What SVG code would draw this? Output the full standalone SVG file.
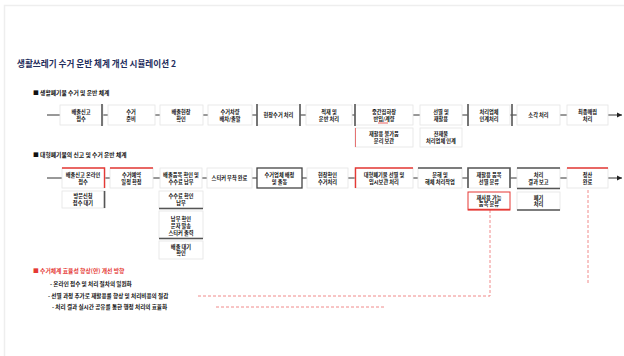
<svg xmlns="http://www.w3.org/2000/svg" width="624" height="356" viewBox="0 0 624 356">
<defs>
<style>
.t{font-family:"Noto Sans CJK KR","Noto Sans",sans-serif;}
.bx{fill:#fff;stroke:#e4e4e4;stroke-width:0.8;}
.bt{font-family:"Noto Sans CJK KR","Noto Sans",sans-serif;font-size:5.2px;font-weight:bold;fill:#111;text-anchor:middle;}
.cn{stroke:#333;stroke-width:1;fill:none;}
.dk{stroke:#555;stroke-width:1.6;fill:none;}
.rd{stroke:#e53935;stroke-width:1.4;fill:none;}
.rdash{stroke:#f08a8a;stroke-width:1;stroke-dasharray:3,2;fill:none;}
.bl{font-family:"Noto Sans CJK KR","Noto Sans",sans-serif;font-size:5.6px;font-weight:bold;fill:#111;}
</style>
<marker id="ah" markerWidth="6" markerHeight="6" refX="5" refY="3" orient="auto" markerUnits="userSpaceOnUse">
<path d="M0,0.5 L5,3 L0,5.5 z" fill="#222"/>
</marker>
</defs>
<rect x="0" y="0" width="624" height="356" fill="#fff"/>
<path d="M4.5,356 V5.5 H624" stroke="#eeeeee" stroke-width="1.5" fill="none"/>

<text class="t" x="17" y="67" font-size="8.6" font-weight="bold" fill="#1f2d5c">생활쓰레기 수거 운반 체계 개선 시뮬레이션 2</text>
<text class="t" x="33" y="94.5" font-size="5.8" font-weight="bold" fill="#111">■ 생활폐기물 수거 및 운반 체계</text>
<text class="t" x="33" y="157" font-size="5.8" font-weight="bold" fill="#111">■ 대형폐기물의 신고 및 수거 운반 체계</text>

<g id="connectors">
<line class="cn" x1="47" y1="115" x2="60" y2="115"/>
<line class="cn" x1="103" y1="115" x2="108" y2="115"/>
<line class="cn" x1="155" y1="115" x2="160" y2="115"/>
<line class="cn" x1="203" y1="115" x2="208" y2="115"/>
<line class="cn" x1="252" y1="115" x2="257" y2="115"/>
<line class="cn" x1="300" y1="115" x2="306" y2="115"/>
<line class="cn" x1="352" y1="115" x2="355" y2="115"/>
<line class="cn" x1="413" y1="115" x2="420" y2="115"/>
<line class="cn" x1="462" y1="115" x2="468" y2="115"/>
<line class="cn" x1="510" y1="115" x2="517" y2="115"/>
<line class="cn" x1="560" y1="115" x2="567" y2="115"/>
<line class="cn" x1="608" y1="115" x2="622" y2="115" marker-end="url(#ah)"/>

<line class="cn" x1="47" y1="178" x2="62" y2="178"/>
<line class="cn" x1="105" y1="178" x2="110" y2="178"/>
<line class="cn" x1="153" y1="178" x2="160" y2="178"/>
<line class="cn" x1="202" y1="178" x2="207" y2="178"/>
<line class="cn" x1="252" y1="178" x2="257" y2="178"/>
<line class="cn" x1="302" y1="178" x2="307" y2="178"/>
<line class="cn" x1="348" y1="178" x2="355" y2="178"/>
<line class="cn" x1="413" y1="178" x2="418" y2="178"/>
<line class="cn" x1="462" y1="178" x2="468" y2="178"/>
<line class="cn" x1="510" y1="178" x2="517" y2="178"/>
<line class="cn" x1="560" y1="178" x2="567" y2="178"/>
<line class="cn" x1="608" y1="178" x2="622" y2="178" marker-end="url(#ah)"/>

<path class="rdash" d="M490,210 V296 H197"/>
<path class="rdash" d="M588,190 V283"/>
<path class="rdash" d="M216,307 H385"/>
</g>

<!-- Row 1 -->
<g id="r1n1"><rect class="bx" x="60" y="105" width="43" height="20"/><line class="dk" x1="102" y1="104" x2="102" y2="126"/><text class="bt" x="81" y="113.5">배출신고</text><text class="bt" x="81" y="120.5">접수</text></g>
<g id="r1n2"><rect class="bx" x="108" y="105" width="47" height="20"/><text class="bt" x="131" y="113.5">수거</text><text class="bt" x="131" y="120.5">준비</text></g>
<g id="r1n3"><rect class="bx" x="160" y="105" width="43" height="20"/><text class="bt" x="181" y="113.5">배출현장</text><text class="bt" x="181" y="120.5">확인</text></g>
<g id="r1n4"><rect class="bx" x="208" y="105" width="44" height="20"/><text class="bt" x="230" y="113.5">수거차량</text><text class="bt" x="230" y="120.5">배차/출발</text></g>
<g id="r1n5"><rect class="bx" x="257" y="105" width="43" height="20"/><line class="dk" x1="257" y1="104" x2="257" y2="126"/><line class="dk" x1="300" y1="104" x2="300" y2="126"/><text class="bt" x="278.5" y="117">현장수거 처리</text></g>
<g id="r1n6"><rect class="bx" x="306" y="105" width="46" height="20"/><text class="bt" x="329" y="113.5">적재 및</text><text class="bt" x="329" y="120.5">운반 처리</text></g>
<g id="r1n7"><rect class="bx" x="355" y="105" width="58" height="20"/><line class="dk" x1="355" y1="104" x2="355" y2="126"/><text class="bt" x="384" y="113.5">중간집하장</text><text class="bt" x="384" y="120.5">반입/계량</text><line x1="378" y1="123" x2="388" y2="123" stroke="#e53935" stroke-width="0.8"/></g>
<g id="r1n7s"><rect class="bx" x="355" y="128" width="58" height="19"/><line x1="355.5" y1="128" x2="355.5" y2="147" stroke="#e57373" stroke-width="1"/><text class="bt" x="384" y="135.5">재활용 불가품</text><text class="bt" x="384" y="142.5">분리 보관</text></g>
<g id="r1n8"><rect class="bx" x="420" y="105" width="42" height="20"/><text class="bt" x="441" y="113.5">선별 및</text><text class="bt" x="441" y="120.5">재활용</text></g>
<g id="r1n8s"><rect class="bx" x="420" y="128" width="42" height="19"/><text class="bt" x="441" y="135.5">잔재물</text><text class="bt" x="441" y="142.5">처리업체 인계</text></g>
<g id="r1n9"><rect class="bx" x="468" y="105" width="42" height="20"/><line class="dk" x1="468" y1="104" x2="468" y2="126"/><line class="dk" x1="512" y1="104" x2="512" y2="126"/><text class="bt" x="489" y="113.5">처리업체</text><text class="bt" x="489" y="120.5">인계처리</text></g>
<g id="r1n10"><rect class="bx" x="517" y="105" width="43" height="20"/><text class="bt" x="538.5" y="117">소각 처리</text></g>
<g id="r1n11"><rect class="bx" x="567" y="105" width="41" height="20"/><text class="bt" x="587.5" y="113.5">최종매립</text><text class="bt" x="587.5" y="120.5">처리</text></g>

<!-- Row 2 -->
<g id="r2n1"><rect class="bx" x="62" y="168" width="43" height="20"/><path class="rd" d="M62,168 H104.5 V188"/><text class="bt" x="83" y="176.5">배출신고 온라인</text><text class="bt" x="83" y="183.5">접수</text></g>
<g id="r2n1s"><rect class="bx" x="62" y="191" width="43" height="17"/><line class="dk" x1="104.5" y1="191" x2="104.5" y2="208"/><text class="bt" x="83" y="198">방문신청</text><text class="bt" x="83" y="204.5">접수 대기</text></g>
<g id="r2n2"><rect class="bx" x="110" y="168" width="43" height="20"/><line class="rd" x1="110" y1="168" x2="153" y2="168"/><text class="bt" x="131.5" y="176.5">수거예약</text><text class="bt" x="131.5" y="183.5">일정 확정</text></g>
<g id="r2n3"><rect class="bx" x="160" y="168" width="42" height="20"/><text class="bt" x="181" y="176.5">배출품목 확인 및</text><text class="bt" x="181" y="183.5">수수료 납부</text></g>
<g id="r2n3a"><rect class="bx" x="159" y="191" width="44" height="17"/><line class="dk" x1="159" y1="208.5" x2="203" y2="208.5"/><text class="bt" x="181" y="198">수수료 확인</text><text class="bt" x="181" y="204.5">납부</text></g>
<g id="r2n3b"><rect class="bx" x="159" y="211" width="44" height="27"/><line class="dk" x1="159" y1="238.5" x2="203" y2="238.5"/><text class="bt" x="181" y="221">납부 확인</text><text class="bt" x="181" y="228">문자 발송</text><text class="bt" x="181" y="235">스티커 출력</text></g>
<g id="r2n3c"><rect class="bx" x="159" y="241" width="44" height="18"/><text class="bt" x="181" y="248.5">배출 대기</text><text class="bt" x="181" y="255">확인</text></g>
<g id="r2n4"><rect class="bx" x="207" y="168" width="45" height="20"/><text class="bt" x="229.5" y="180">스티커 부착 완료</text></g>
<g id="r2n5"><rect x="257" y="168" width="45" height="20" fill="#fff" stroke="#444" stroke-width="1.3"/><text class="bt" x="279.5" y="176.5">수거업체 배정</text><text class="bt" x="279.5" y="183.5">및 출동</text></g>
<g id="r2n6"><rect class="bx" x="307" y="168" width="41" height="20"/><text class="bt" x="327.5" y="176.5">현장확인</text><text class="bt" x="327.5" y="183.5">수거처리</text></g>
<g id="r2n7"><rect class="bx" x="355" y="168" width="58" height="20"/><path class="rd" d="M355.5,188 V168 H413"/><text class="bt" x="384" y="176.5">대형폐기물 선별 및</text><text class="bt" x="384" y="183.5">임시보관 처리</text></g>
<g id="r2n8"><rect class="bx" x="418" y="168" width="44" height="20"/><line class="dk" x1="418" y1="168" x2="462" y2="168"/><text class="bt" x="440" y="176.5">분해 및</text><text class="bt" x="440" y="183.5">해체 처리작업</text></g>
<g id="r2n9"><rect class="bx" x="468" y="168" width="42" height="20"/><path class="dk" d="M468,188 V168 H510 V188"/><text class="bt" x="489" y="176.5">재활용 품목</text><text class="bt" x="489" y="183.5">선별 분류</text></g>
<g id="r2n9s"><rect x="468" y="192" width="42" height="18" fill="#fff" stroke="#e53935" stroke-width="1"/><line x1="468" y1="209.5" x2="510" y2="209.5" stroke="#e53935" stroke-width="1.6"/><text class="bt" x="489" y="199.5">재사용 가능</text><text class="bt" x="489" y="206">품목 분류</text></g>
<g id="r2n10"><rect class="bx" x="517" y="168" width="43" height="20"/><line class="dk" x1="517" y1="168" x2="560" y2="168"/><line class="dk" x1="517" y1="188.5" x2="560" y2="188.5"/><text class="bt" x="538.5" y="176.5">처리</text><text class="bt" x="538.5" y="183.5">결과 보고</text></g>
<g id="r2n10s"><rect class="bx" x="517" y="192" width="43" height="18"/><line class="dk" x1="517" y1="210" x2="560" y2="210"/><text class="bt" x="538.5" y="199.5">폐기</text><text class="bt" x="538.5" y="206">처리</text></g>
<g id="r2n11"><rect class="bx" x="567" y="168" width="41" height="20"/><line class="rd" x1="567" y1="168" x2="608" y2="168"/><text class="bt" x="587.5" y="176.5">정산</text><text class="bt" x="587.5" y="183.5">완료</text></g>

<text class="t" x="33" y="272.5" font-size="5.8" font-weight="bold" fill="#e53935">■ 수거체계 효율성 향상(안) 개선 방향</text>
<text class="bl" x="50" y="286">- 온라인 접수 및 처리 절차의 일원화</text>
<text class="bl" x="48" y="297.5">- 선별 과정 추가로 재활용률 향상 및 처리비용의 절감</text>
<text class="bl" x="52" y="309">- 처리 결과 실시간 공유를 통한 행정 처리의 효율화</text>
</svg>
